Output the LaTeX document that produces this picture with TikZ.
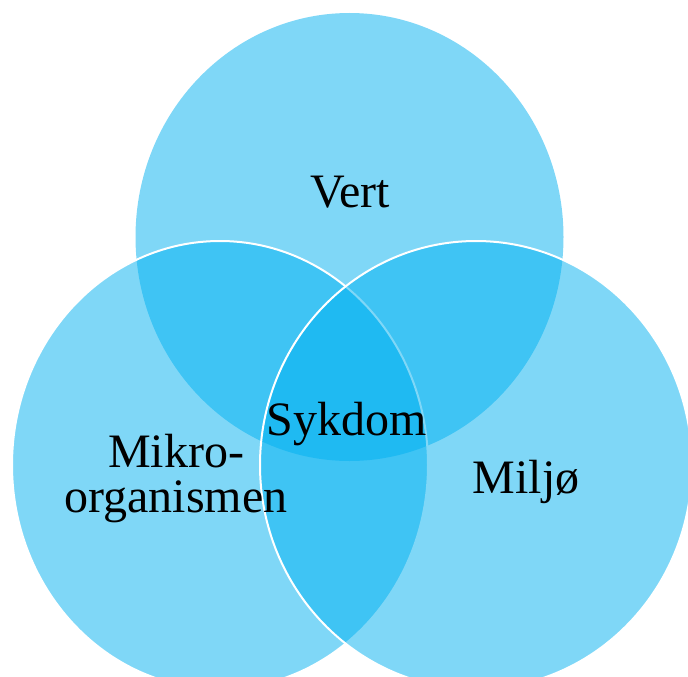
\documentclass[tikz,border=0pt]{standalone}
\usepackage{fontspec}
\setmainfont{Liberation Serif}
\definecolor{vennblue}{HTML}{00B0F0}
\tikzset{
  venn/.style={fill=vennblue, fill opacity=0.5},
  vennline/.style={venn, draw=white, line width=2pt},
  lbl/.style={font=\fontsize{48}{45}\selectfont, text=black, anchor=base, align=center, inner sep=0pt}
}
\begin{document}
\begin{tikzpicture}[x=1pt,y=-1pt]
\useasboundingbox (0,0) rectangle (688,677);
\begin{scope}
\clip (0,0) rectangle (688,677);
\fill[venn] (349.5,237) ellipse [x radius=214, y radius=224];
\filldraw[vennline] (220,465) ellipse [x radius=208, y radius=224];
\filldraw[vennline] (476,465) ellipse [x radius=216, y radius=224];
\end{scope}
\node[lbl] (vert) at (350,207) {Vert};
\node[lbl] (sykdom) at (347,435) {Sykdom};
\node[lbl] (miljo) at (526,493) {Miljø};
\node[lbl] (mikro) at (176,467) {Mikro-};
\node[lbl] (org) at (176,512) {organismen};
\end{tikzpicture}
\end{document}
